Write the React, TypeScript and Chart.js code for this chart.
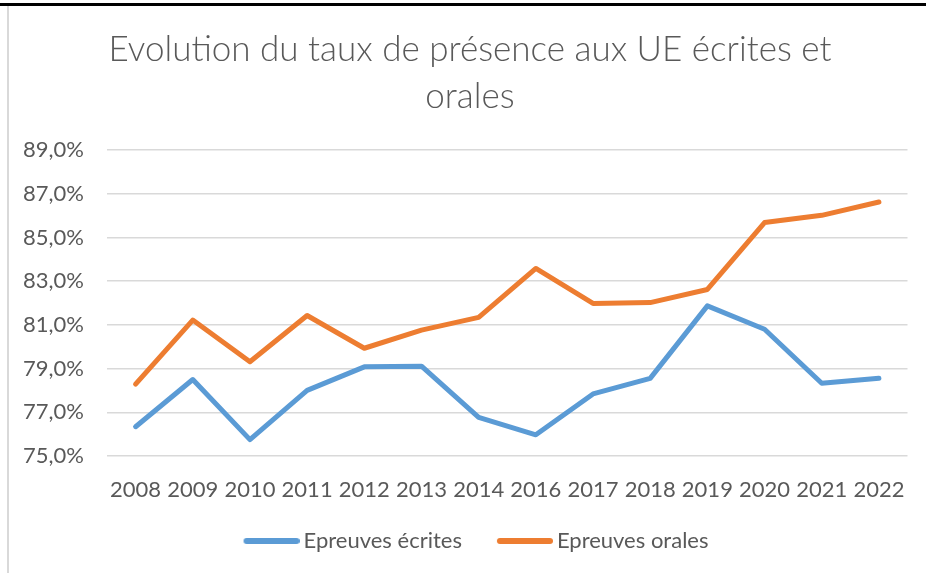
import React, { useEffect, useRef } from 'react';
import { Chart, registerables } from 'chart.js';

Chart.register(...registerables);

const titleLines = ['Evolution du taux de présence aux UE écrites et', 'orales'];
const years = ['2008', '2009', '2010', '2011', '2012', '2013', '2014', '2016', '2017', '2018', '2019', '2020', '2021', '2022'];
const ecrites = [76.34, 78.5, 75.75, 78.0, 79.08, 79.11, 76.77, 75.97, 77.84, 78.55, 81.87, 80.8, 78.33, 78.56];
const orales = [78.29, 81.22, 79.31, 81.43, 79.93, 80.76, 81.34, 83.58, 81.98, 82.02, 82.62, 85.68, 86.01, 86.62];
const seriesNames = ['Epreuves écrites', 'Epreuves orales'];
const seriesColors = ['#5B9BD5', '#ED7D31'];
const yMin = 75;
const yMax = 89;
const yStep = 2;

const FONT = "Lato, 'Liberation Sans', Arial, sans-serif";
const TEXT = '#595959';
const LABEL_SIZE = 22;

function legendLine(color: string) {
  // transparent margin on the left, line on the right
  const c = document.createElement('canvas');
  c.width = 75;
  c.height = 8;
  const g = c.getContext('2d')!;
  g.strokeStyle = color;
  g.lineWidth = 6;
  g.lineCap = 'round';
  g.beginPath();
  g.moveTo(19 + 3, 4);
  g.lineTo(75 - 3, 4);
  g.stroke();
  return c;
}

export default function App() {
  const ref = useRef<HTMLCanvasElement>(null);

  useEffect(() => {
    document.body.style.margin = '0';
    const imgs = seriesColors.map(legendLine);
    const chart = new Chart(ref.current!, {
      type: 'line',
      data: {
        labels: years,
        datasets: [
          {
            label: seriesNames[0],
            data: ecrites,
            borderColor: seriesColors[0],
            backgroundColor: seriesColors[0],
            borderWidth: 5,
            pointRadius: 0,
            borderJoinStyle: 'round',
            borderCapStyle: 'round',
            tension: 0,
          },
          {
            label: seriesNames[1],
            data: orales,
            borderColor: seriesColors[1],
            backgroundColor: seriesColors[1],
            borderWidth: 5,
            pointRadius: 0,
            borderJoinStyle: 'round',
            borderCapStyle: 'round',
            tension: 0,
          },
        ],
      },
      options: {
        responsive: false,
        animation: false,
        devicePixelRatio: 1,
        layout: { padding: { left: 14, right: 0, top: 0, bottom: 11 } },
        plugins: {
          tooltip: { enabled: false },
          title: {
            display: true,
            text: titleLines,
            color: TEXT,
            font: { family: FONT, size: 35, weight: 300, lineHeight: 47 / 35 },
            padding: { top: 26.5, bottom: 29.5 },
          },
          legend: {
            position: 'bottom',
            labels: {
              usePointStyle: true,
              pointStyleWidth: 61,
              padding: 23,
              color: TEXT,
              font: { family: FONT, size: LABEL_SIZE },
              generateLabels: (ch: any) => {
                const items = (Chart.defaults.plugins.legend.labels as any).generateLabels(ch);
                items.forEach((it: any, i: number) => {
                  it.pointStyle = imgs[i];
                });
                return items;
              },
            },
          },
        },
        scales: {
          x: {
            offset: true,
            grid: { display: false, drawTicks: false },
            border: { display: false },
            ticks: { color: TEXT, font: { family: FONT, size: LABEL_SIZE }, padding: 21, maxRotation: 0, autoSkip: false },
            afterFit: (s: any) => {
              s.height = 51;
            },
          },
          y: {
            min: yMin,
            max: yMax,
            grid: { color: '#D9D9D9', lineWidth: 1.5, drawTicks: false },
            border: { display: false },
            ticks: {
              stepSize: yStep,
              padding: 23,
              color: TEXT,
              font: { family: FONT, size: LABEL_SIZE },
              callback: (v: any) => Number(v).toFixed(1).replace('.', ',') + '%',
            },
            afterFit: (s: any) => {
              s.width = 93;
            },
          },
          yRight: {
            position: 'right',
            display: true,
            grid: { display: false, drawTicks: false },
            border: { display: false },
            ticks: { display: false },
            afterFit: (s: any) => {
              s.width = 16;
            },
          },
        },
      },
    } as any);
    return () => chart.destroy();
  }, []);

  return (
    <div style={{ position: 'absolute', left: 0, top: 0, width: 926, height: 573, background: '#fff', overflow: 'hidden' }}>
      <div style={{ position: 'absolute', left: 0, top: 3, width: 926, height: 3, background: '#000' }} />
      <div style={{ position: 'absolute', left: 7, top: 6, width: 2, height: 567, background: '#D9D9D9' }} />
      <canvas ref={ref} width={926} height={573} style={{ position: 'absolute', left: 0, top: 0, width: 926, height: 573 }} />
    </div>
  );
}
